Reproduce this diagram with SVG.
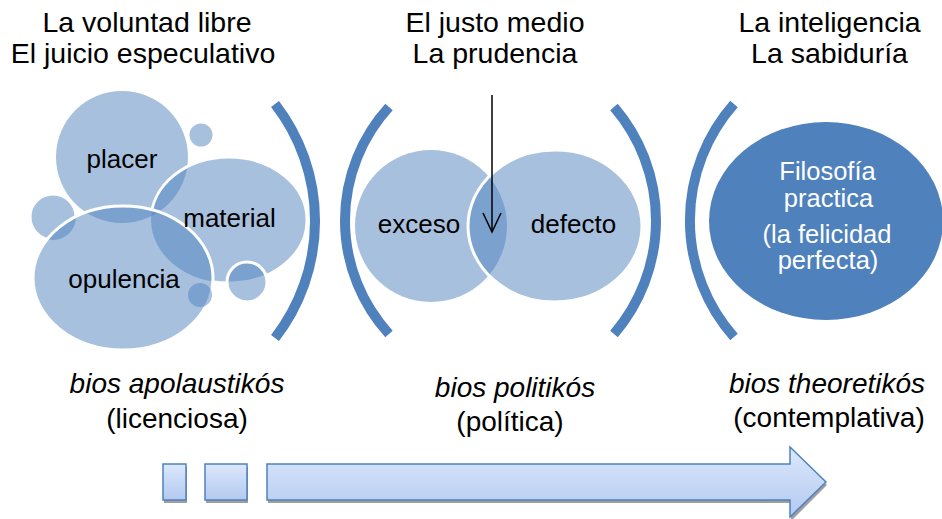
<svg xmlns="http://www.w3.org/2000/svg" width="942" height="519" viewBox="0 0 942 519">
<style>
.t{font-family:"Liberation Sans",Arial,sans-serif;fill:#000;text-anchor:middle}
.top{font-size:28.5px}
.in{font-size:26px}
.bot{font-size:28px}
.it{font-style:italic}
.wt{fill:#fff;font-size:25.5px}
.bub{fill:#4F81BD;fill-opacity:0.5}
.ws{fill:none;stroke:#fff;stroke-width:3}
.par{fill:none;stroke:#4F81BD;stroke-width:10}
.box{fill:url(#g);stroke:#4F81BD;stroke-width:1.5}
.sh{fill:#9E9E9E}
</style>
<defs>
<linearGradient id="g" x1="0" y1="0" x2="0" y2="1">
<stop offset="0" stop-color="#DCE8FC"/>
<stop offset="1" stop-color="#B3C9F0"/>
</linearGradient>
<mask id="noOpul" maskUnits="userSpaceOnUse" x="0" y="0" width="942" height="519">
<rect x="0" y="0" width="942" height="519" fill="#fff"/>
<ellipse cx="123" cy="278" rx="90" ry="72" fill="#000"/>
</mask>
<marker id="ah" markerUnits="userSpaceOnUse" markerWidth="24" markerHeight="24" refX="20" refY="10" orient="auto" viewBox="0 0 24 20">
<path d="M1 1 L20 10 L1 19" fill="none" stroke="#000" stroke-width="1.5"/>
</marker>
</defs>
<rect width="942" height="519" fill="#fff"/>

<g id="header-left">
<text class="t top" x="147" y="32">La voluntad libre</text>
<text class="t top" x="143" y="63">El juicio especulativo</text>
</g>
<g id="header-mid">
<text class="t top" x="495" y="32">El justo medio</text>
<text class="t top" x="495" y="63">La prudencia</text>
</g>
<g id="header-right">
<text class="t top" x="829.5" y="32">La inteligencia</text>
<text class="t top" x="829.5" y="63">La sabiduría</text>
</g>

<g id="cluster-left">
<g id="placer"><circle class="bub" cx="122" cy="157" r="66"/></g>
<g id="bubble-tr"><circle class="bub" cx="201" cy="135" r="13"/><circle class="ws" cx="201" cy="135" r="13"/></g>
<g id="bubble-l"><circle class="bub" cx="53" cy="217" r="23"/><circle class="ws" cx="53" cy="217" r="23" mask="url(#noOpul)"/></g>
<g id="material"><ellipse class="bub" cx="229" cy="220" rx="78" ry="63"/><ellipse class="ws" cx="229" cy="220" rx="78" ry="63" mask="url(#noOpul)"/></g>
<g id="opulencia"><ellipse class="bub" cx="123" cy="278" rx="90" ry="72"/><ellipse class="ws" cx="123" cy="278" rx="90" ry="72"/></g>
<g id="bubble-br"><circle class="bub" cx="247" cy="282" r="20"/><circle class="ws" cx="247" cy="282" r="20"/></g>
<g id="bubble-in"><circle class="bub" cx="200" cy="295" r="12"/></g>
<text class="t in" x="122" y="168">placer</text>
<text class="t in" x="229.5" y="227">material</text>
<text class="t in" x="124" y="288">opulencia</text>
</g>

<g id="brackets">
<path class="par" d="M275 104 A191 191 0 0 1 275 338"/>
<path class="par" d="M389 107 A168.4 168.4 0 0 0 389 334"/>
<path class="par" d="M614 107 A174.4 174.4 0 0 1 614 334"/>
<path class="par" d="M734 104 A176 176 0 0 0 734 337"/>
</g>

<g id="exceso"><circle class="bub" cx="431" cy="226" r="76"/><text class="t in" x="419" y="233">exceso</text></g>
<g id="defecto"><ellipse class="bub" cx="555" cy="226" rx="87" ry="76"/><ellipse class="ws" cx="555" cy="226" rx="87" ry="76"/><text class="t in" x="573.5" y="233">defecto</text></g>

<g id="filosofia">
<ellipse cx="826" cy="221" rx="117" ry="99" fill="#4F81BD"/>
<text class="t wt" x="827.5" y="180">Filosofía</text>
<text class="t wt" x="828.5" y="207">practica</text>
<text class="t wt" x="827" y="243">(la felicidad</text>
<text class="t wt" x="828" y="269">perfecta)</text>
</g>

<g id="connectors">
<path d="M492 95 L492 232" fill="none" stroke="#000" stroke-width="1.5" marker-end="url(#ah)"/>
</g>

<g id="label-left">
<text class="t bot it" x="177" y="393">bios apolaustikós</text>
<text class="t bot" x="177" y="428">(licenciosa)</text>
</g>
<g id="label-mid">
<text class="t bot it" x="515" y="397">bios politikós</text>
<text class="t bot" x="510" y="431">(política)</text>
</g>
<g id="label-right">
<text class="t bot it" x="827" y="393">bios theoretikós</text>
<text class="t bot" x="829" y="427">(contemplativa)</text>
</g>

<g id="progress">
<rect class="sh" x="164" y="467" width="23" height="36"/>
<rect class="sh" x="206" y="467" width="42" height="36"/>
<polygon class="sh" points="268,467 791,467 791,450 827,485 791,521 791,503 268,503"/>
<rect class="box" x="163" y="464" width="23" height="36"/>
<rect class="box" x="205" y="464" width="42" height="36"/>
<polygon class="box" points="267,464 790,464 790,447 826,482 790,517 790,500 267,500"/>
</g>
</svg>
